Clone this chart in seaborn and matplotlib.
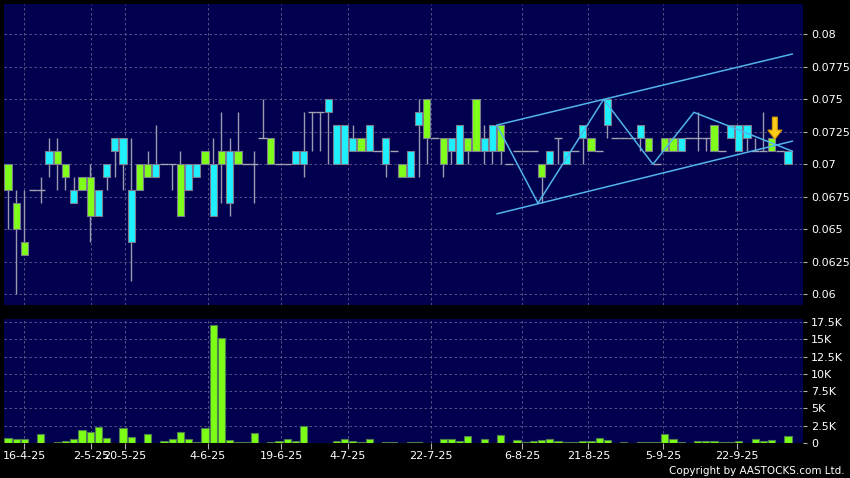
import numpy as np
import pandas as pd
import matplotlib
matplotlib.use("Agg")
import matplotlib.pyplot as plt
import seaborn as sns
from matplotlib.patches import FancyArrow

# ---------------- data ----------------
opens = [0.068, 0.065, 0.063, 0.068, 0.068, 0.071, 0.070, 0.069, 0.068, 0.068,
         0.066, 0.068, 0.070, 0.072, 0.072, 0.068, 0.068, 0.069, 0.070, 0.070,
         0.070, 0.066, 0.070, 0.070, 0.070, 0.070, 0.070, 0.071, 0.070, 0.070,
         0.070, 0.072, 0.070, 0.070, 0.070, 0.071, 0.071, 0.074, 0.074, 0.075,
         0.073, 0.073, 0.072, 0.071, 0.073, 0.071, 0.072, 0.071, 0.069, 0.071,
         0.074, 0.072, 0.072, 0.070, 0.072, 0.073, 0.071, 0.071, 0.072, 0.073,
         0.071, 0.070, 0.071, 0.071, 0.071, 0.069, 0.071, 0.072, 0.071, 0.071,
         0.073, 0.071, 0.071, 0.075, 0.072, 0.072, 0.072, 0.073, 0.071, 0.070,
         0.071, 0.071, 0.072, 0.072, 0.072, 0.072, 0.071, 0.071, 0.073, 0.073,
         0.073, 0.071, 0.071, 0.071, 0.071, 0.071]
highs = [0.070, 0.068, 0.068, 0.068, 0.069, 0.072, 0.072, 0.070, 0.069, 0.069,
         0.070, 0.068, 0.070, 0.072, 0.072, 0.072, 0.070, 0.071, 0.073, 0.070,
         0.070, 0.071, 0.070, 0.070, 0.071, 0.072, 0.074, 0.072, 0.074, 0.070,
         0.071, 0.075, 0.072, 0.070, 0.070, 0.071, 0.074, 0.074, 0.074, 0.075,
         0.073, 0.073, 0.073, 0.072, 0.073, 0.071, 0.072, 0.071, 0.070, 0.071,
         0.075, 0.075, 0.072, 0.072, 0.072, 0.073, 0.072, 0.075, 0.073, 0.073,
         0.073, 0.070, 0.071, 0.071, 0.071, 0.070, 0.071, 0.072, 0.071, 0.071,
         0.073, 0.072, 0.071, 0.075, 0.072, 0.072, 0.072, 0.073, 0.072, 0.070,
         0.072, 0.072, 0.072, 0.072, 0.074, 0.072, 0.073, 0.071, 0.073, 0.073,
         0.073, 0.072, 0.074, 0.072, 0.071, 0.071]
lows = [0.065, 0.060, 0.063, 0.068, 0.067, 0.069, 0.068, 0.068, 0.067, 0.068,
        0.064, 0.066, 0.068, 0.069, 0.068, 0.061, 0.068, 0.069, 0.069, 0.070,
        0.068, 0.066, 0.068, 0.069, 0.070, 0.066, 0.067, 0.066, 0.070, 0.070,
        0.067, 0.072, 0.070, 0.070, 0.070, 0.070, 0.069, 0.071, 0.071, 0.070,
        0.070, 0.070, 0.071, 0.071, 0.071, 0.071, 0.069, 0.071, 0.069, 0.069,
        0.069, 0.070, 0.072, 0.069, 0.070, 0.070, 0.070, 0.071, 0.070, 0.070,
        0.070, 0.070, 0.071, 0.071, 0.071, 0.067, 0.070, 0.070, 0.070, 0.071,
        0.070, 0.071, 0.071, 0.072, 0.072, 0.072, 0.072, 0.071, 0.071, 0.070,
        0.071, 0.071, 0.071, 0.072, 0.071, 0.071, 0.071, 0.071, 0.072, 0.071,
        0.071, 0.071, 0.071, 0.071, 0.071, 0.070]
closes = [0.070, 0.067, 0.064, 0.068, 0.068, 0.070, 0.071, 0.070, 0.067, 0.069,
          0.069, 0.066, 0.069, 0.071, 0.070, 0.064, 0.070, 0.070, 0.069, 0.070,
          0.070, 0.070, 0.068, 0.069, 0.071, 0.066, 0.071, 0.067, 0.071, 0.070,
          0.070, 0.072, 0.072, 0.070, 0.070, 0.070, 0.070, 0.074, 0.074, 0.074,
          0.070, 0.070, 0.071, 0.072, 0.071, 0.071, 0.070, 0.071, 0.070, 0.069,
          0.073, 0.075, 0.072, 0.072, 0.071, 0.070, 0.072, 0.075, 0.071, 0.071,
          0.073, 0.070, 0.071, 0.071, 0.071, 0.070, 0.070, 0.072, 0.070, 0.071,
          0.072, 0.072, 0.071, 0.073, 0.072, 0.072, 0.072, 0.072, 0.072, 0.070,
          0.072, 0.072, 0.071, 0.072, 0.072, 0.072, 0.073, 0.071, 0.072, 0.071,
          0.072, 0.071, 0.071, 0.072, 0.071, 0.070]
volumes = [735, 590, 540, 50, 1370, 30, 100, 250, 640, 1910,
           1570, 2350, 690, 50, 2100, 880, 0, 1270, 0, 340,
           590, 1570, 590, 150, 2100, 17000, 15200, 390, 200, 200,
           1420, 0, 150, 250, 590, 340, 2450, 0, 0, 0,
           340, 640, 340, 150, 540, 0, 150, 150, 50, 150,
           100, 50, 0, 590, 590, 300, 1030, 0, 590, 50,
           1180, 30, 490, 100, 300, 400, 540, 300, 200, 200,
           340, 340, 780, 390, 30, 100, 30, 100, 150, 200,
           1320, 590, 200, 50, 250, 250, 300, 150, 150, 300,
           30, 590, 250, 440, 30, 1080]

date_labels = ["16-4-25", "2-5-25", "20-5-25", "4-6-25", "19-6-25", "4-7-25",
               "22-7-25", "6-8-25", "21-8-25", "5-9-25", "22-9-25"]
date_tick_pos = [2.0, 10.1, 14.2, 24.3, 33.3, 41.4, 51.5, 62.6, 70.7, 79.8, 88.8]

price_ticks = [0.06, 0.0625, 0.065, 0.0675, 0.07, 0.0725, 0.075, 0.0775, 0.08]
price_tick_labels = ["0.06", "0.0625", "0.065", "0.0675", "0.07", "0.0725",
                     "0.075", "0.0775", "0.08"]
vol_ticks = [0, 2500, 5000, 7500, 10000, 12500, 15000, 17500]
vol_tick_labels = ["0", "2.5K", "5K", "7.5K", "10K", "12.5K", "15K", "17.5K"]

zigzag_idx = [60, 65, 73, 79, 84, 96]
zigzag_price = [0.073, 0.067, 0.075, 0.070, 0.074, 0.071]
channel_idx = [60, 96]
channel_upper = [0.07302, 0.07849]
channel_lower = [0.06618, 0.07178]
signal_idx = 93
signal_top, signal_tip = 0.07363, 0.07193

# ---------------- style ----------------
NAVY = "#00004e"
GREEN = "#80ff1a"
CYAN = "#1ef0ff"
VOLGREEN = "#7cff14"
GRID = "#5f5f90"
LINEBLUE = "#52b4ea"

sns.set_style("dark", {"axes.facecolor": NAVY, "figure.facecolor": "black"})
plt.rcParams["font.family"] = ["DejaVu Sans"]

fig = plt.figure(figsize=(8.5, 4.78), dpi=100, facecolor="black")
L, R = 3.5 / 850, 802.5 / 850
ax = fig.add_axes([L, 1 - 305 / 478, R - L, 301 / 478])
axv = fig.add_axes([L, 1 - 443 / 478, R - L, 124 / 478])

n = len(opens)
idx = np.arange(n)
df = pd.DataFrame({"idx": idx, "open": opens, "high": highs, "low": lows,
                   "close": closes, "vol": volumes})

# ---------------- price panel ----------------
ax.vlines(df["idx"], df["low"], df["high"], color="#9a9aae", lw=1.0, zorder=2)
body = df[df["open"] != df["close"]]
colors = np.where(body["close"] > body["open"], GREEN, CYAN)
ax.bar(body["idx"], (body["close"] - body["open"]).abs(),
       bottom=np.minimum(body["open"], body["close"]), width=0.88,
       color=colors, edgecolor="#7c7c8c", linewidth=0.8, zorder=3)
flat = df[df["open"] == df["close"]]
ax.hlines(flat["close"], flat["idx"] - 0.5, flat["idx"] + 0.5,
          color="#a4a4b0", lw=1.0, zorder=3)

zz = pd.DataFrame({"x": np.array(zigzag_idx) - 0.45, "y": zigzag_price})
sns.lineplot(data=zz, x="x", y="y", sort=False, estimator=None, color=LINEBLUE,
             lw=1.1, ax=ax, zorder=4)
for band in (channel_upper, channel_lower):
    cd = pd.DataFrame({"x": np.array(channel_idx) - 0.45, "y": band})
    sns.lineplot(data=cd, x="x", y="y", sort=False, estimator=None,
                 color=LINEBLUE, lw=1.1, ax=ax, zorder=4)

arrow = FancyArrow(signal_idx + 0.4, signal_top, 0, signal_tip - signal_top,
                   width=0.6, head_width=1.7, head_length=0.0007,
                   length_includes_head=True, fc="#ffcc1a", ec="#d99a00",
                   lw=0.8, zorder=6)
ax.add_patch(arrow)

ax.set_ylim(0.05916, 0.08234)
ax.set_yticks(price_ticks)
ax.set_yticklabels(price_tick_labels)

# ---------------- volume panel ----------------
sns.barplot(data=df, x="idx", y="vol", native_scale=True, color=VOLGREEN,
            saturation=1, width=0.88, edgecolor="#4f7f4f", linewidth=0.8,
            errorbar=None, ax=axv, zorder=3)
axv.set_ylim(0, 17930)
axv.set_yticks(vol_ticks)
axv.set_yticklabels(vol_tick_labels)

# ---------------- common axes styling ----------------
for a in (ax, axv):
    a.set_facecolor(NAVY)
    a.set_xlim(-0.55, 96.77)
    a.set_xticks(date_tick_pos)
    a.yaxis.tick_right()
    a.set_xlabel("")
    a.set_ylabel("")
    a.grid(True, color=GRID, linestyle=(0, (3, 3)), linewidth=0.6)
    a.set_axisbelow(True)
    for s in a.spines.values():
        s.set_visible(False)
    a.tick_params(axis="y", which="both", direction="out", length=3, width=0.8,
                  color="#b0b0b0", labelcolor="white", labelsize=8, pad=3,
                  left=False, right=True)

ax.tick_params(axis="x", length=0, labelbottom=False)
axv.set_xticklabels(date_labels)
axv.tick_params(axis="x", direction="out", length=4, width=0.8, color="#b0b0b0",
                labelcolor="white", labelsize=8, pad=2, bottom=True)

fig.text(845 / 850, 1 - 471 / 478, "Copyright by AASTOCKS.com Ltd.",
         ha="right", va="center", color="white", fontsize=7.5)

fig.savefig("out.png", dpi=100, facecolor="black")
